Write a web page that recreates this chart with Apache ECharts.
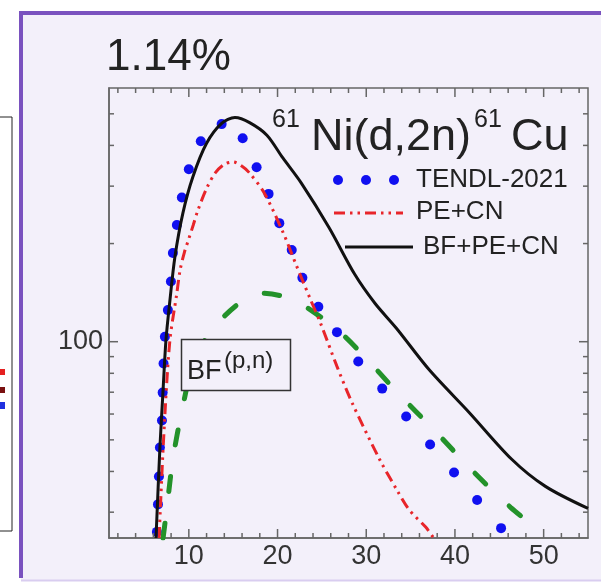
<!DOCTYPE html>
<html>
<head>
<meta charset="utf-8">
<script src="https://cdn.jsdelivr.net/npm/echarts@6.0.0/dist/echarts.min.js"></script>
<style>
html, body { margin: 0; padding: 0; background: #fff; }
#ct1 { width: 601px; height: 583px; }
</style>
</head>
<body>
<div id="ct1"></div>
<script>
// TENDL-2021 (blue dots)
var tendlE = [6.4, 6.52, 6.63, 6.74, 6.97, 7.05, 7.15, 7.3, 7.64, 7.98, 8.2, 8.65, 9.21, 10.0, 11.35, 13.7, 16.07, 17.64, 18.99, 20.2, 21.6, 22.8, 24.6, 26.7, 29.1, 31.8, 34.5, 37.2, 39.9, 42.5, 45.2];
var tendlXS = [26.1, 31.7, 38.6, 47.4, 57.3, 69.8, 85.7, 103.6, 125, 153, 187, 228, 277, 338, 412, 465, 421, 343, 284, 231, 191, 157, 128, 107, 86.9, 71.8, 59.0, 48.4, 39.7, 32.7, 26.8];
// PE+CN (red dash-dot-dot)
var peE = [6.65, 7.15, 7.85, 8.65, 9.0, 9.5, 10.0, 10.5, 11.0, 12.0, 13.0, 14.0, 15.0, 16.0, 16.85, 18.5, 20.6, 22.1, 23.6, 24.9, 26.7, 28.4, 31.5, 33.4, 34.8, 36.7, 37.6];
var peXS = [25, 50, 100, 141, 165, 188, 207, 228, 252, 295, 330, 350, 356, 345, 329, 286, 217, 172, 137, 113, 84, 65, 43.6, 35.3, 30.6, 27.0, 25];
// BF+PE+CN (black)
var allE = [6.3, 6.74, 7.08, 7.42, 7.87, 8.43, 9.33, 10.45, 12.0, 13.7, 15.2, 16.85, 18.8, 20.6, 22.7, 25.8, 28.7, 31.0, 33.4, 37.1, 41.6, 46.4, 50.2, 55];
var allXS = [25, 47.4, 69.8, 101, 134, 182, 248, 320, 406, 467, 487, 470, 430, 366, 306, 224, 161, 131, 110, 82, 60.7, 43.6, 36, 30.8];
// BF (green dashed)
var bfE = [7.1, 7.53, 8.2, 9.2, 10.5, 12.2, 13.9, 16.0, 18.1, 20.5, 23.0, 27.2, 29.8, 33.7, 37.6, 41.9, 46.3, 50.2];
var bfXS = [25, 31, 43.6, 61, 86, 105, 119, 133, 141, 138, 129, 106, 90, 69, 53.8, 40.4, 31, 25.5];

var xMajor = [10, 20, 30, 40, 50];
var xMinor = [2, 4, 6, 8, 12, 14, 16, 18, 22, 24, 26, 28, 32, 34, 36, 38, 42, 44, 46, 48, 52, 54];
var yMajor = [100];
var yMinor = [30, 40, 50, 60, 70, 80, 90, 200, 300, 400, 500];

var FONT = '"Liberation Sans", Arial, sans-serif';
var AXIS_COLOR = '#666666';

function pairs(xs, ys) {
	var out = [];
	for (var i = 0; i < xs.length; i++) {
		out.push([xs[i], ys[i]]);
	}
	return out;
}

// inward ticks on both sides of the frame, placed through the axes
function tickSeries(values, len, dim) {
	var data = [];
	for (var i = 0; i < values.length; i++) {
		data.push(dim == 'x' ? [values[i], 100] : [10, values[i]]);
	}
	return {
		type: 'custom', coordinateSystem: 'cartesian2d', silent: true, clip: false, z: 5,
		data: data,
		renderItem: function (params, api) {
			var a, b;
			if (dim == 'x') {
				a = api.coord([api.value(0), 25]);
				b = api.coord([api.value(0), 600]);
				return { type: 'group', children: [
					{ type: 'line', shape: { x1: a[0], y1: a[1], x2: a[0], y2: a[1] - len }, style: { stroke: AXIS_COLOR, lineWidth: 1.5 } },
					{ type: 'line', shape: { x1: b[0], y1: b[1], x2: b[0], y2: b[1] + len }, style: { stroke: AXIS_COLOR, lineWidth: 1.5 } }
				] };
			}
			a = api.coord([1, api.value(1)]);
			b = api.coord([55, api.value(1)]);
			return { type: 'group', children: [
				{ type: 'line', shape: { x1: a[0], y1: a[1], x2: a[0] + len, y2: a[1] }, style: { stroke: AXIS_COLOR, lineWidth: 1.5 } },
				{ type: 'line', shape: { x1: b[0], y1: b[1], x2: b[0] - len, y2: b[1] }, style: { stroke: AXIS_COLOR, lineWidth: 1.5 } }
			] };
		}
	};
}

function txt(x, y, s, size) {
	return {
		type: 'text', x: x, y: y, z: 20,
		style: { text: s, font: size + 'px ' + FONT, fill: '#222', align: 'left', verticalAlign: 'middle' }
	};
}

var graphics = [
	// panel
	{ type: 'rect', z: -10, shape: { x: 21, y: 13, width: 600, height: 567 }, style: { fill: '#f3f0fa' } },
	{ type: 'line', z: -9, shape: { x1: 21, y1: 11, x2: 21, y2: 578 }, style: { stroke: '#7a52bf', lineWidth: 4 } },
	{ type: 'line', z: -9, shape: { x1: 19, y1: 13, x2: 601, y2: 13 }, style: { stroke: '#7a52bf', lineWidth: 4 } },
	{ type: 'line', z: -9, shape: { x1: 21, y1: 580.5, x2: 601, y2: 580.5 }, style: { stroke: '#d9cdf0', lineWidth: 2 } },
	// neighbour panel fragment on the left
	{ type: 'line', shape: { x1: 12, y1: 117, x2: 12, y2: 531 }, style: { stroke: '#222', lineWidth: 1 } },
	{ type: 'line', shape: { x1: 0, y1: 117, x2: 12, y2: 117 }, style: { stroke: '#222', lineWidth: 1 } },
	{ type: 'line', shape: { x1: 0, y1: 531, x2: 12, y2: 531 }, style: { stroke: '#222', lineWidth: 1 } },
	{ type: 'rect', shape: { x: 0, y: 369, width: 5, height: 6 }, style: { fill: '#e52020' } },
	{ type: 'rect', shape: { x: 0, y: 387, width: 5, height: 6 }, style: { fill: '#7a1010' } },
	{ type: 'rect', shape: { x: 0, y: 402, width: 5, height: 7 }, style: { fill: '#2030e0' } },
	// titles
	txt(106, 58, '1.14%', 44),
	txt(272, 120, '61', 25),
	txt(311, 138, 'Ni(d,2n)', 45),
	txt(474, 120, '61', 25),
	txt(511, 138, 'Cu', 45),
	// legend
	{ type: 'circle', z: 20, shape: { cx: 338, cy: 180, r: 5 }, style: { fill: '#1010f0' } },
	{ type: 'circle', z: 20, shape: { cx: 366, cy: 180, r: 5 }, style: { fill: '#1010f0' } },
	{ type: 'circle', z: 20, shape: { cx: 394, cy: 180, r: 5 }, style: { fill: '#1010f0' } },
	txt(416, 180, 'TENDL-2021', 26),
	{ type: 'line', z: 20, shape: { x1: 334, y1: 213, x2: 403, y2: 213 }, style: { stroke: '#e8252a', lineWidth: 3, lineDash: [11, 5, 2.5, 5, 2.5, 5] } },
	txt(416, 212, 'PE+CN', 26),
	{ type: 'line', z: 20, shape: { x1: 345, y1: 247, x2: 413, y2: 247 }, style: { stroke: '#111', lineWidth: 3 } },
	txt(423, 247, 'BF+PE+CN', 26),
	// BF(p,n) box
	{ type: 'rect', z: 20, shape: { x: 181.5, y: 339.5, width: 109, height: 51 }, style: { fill: '#f3f0fa', stroke: '#333', lineWidth: 1.5 } },
	txt(187, 372, 'BF', 27),
	txt(224, 361, '(p,n)', 24)
];

var option1 = {
	animation: false,
	backgroundColor: '#ffffff',
	grid: { left: 109, right: 13, top: 88, bottom: 45, outerBoundsMode: 'none', show: true, borderColor: AXIS_COLOR, borderWidth: 1.5, backgroundColor: 'transparent' },
	xAxis: {
		type: 'value', min: 1, max: 55,
		axisLine: { show: true, onZero: false, lineStyle: { color: AXIS_COLOR, width: 1.5 } },
		axisTick: { show: false },
		axisLabel: { customValues: xMajor, fontSize: 27, color: '#333', fontFamily: FONT, margin: 5 },
		splitLine: { show: false }
	},
	yAxis: {
		type: 'log', logBase: 10, min: 25, max: 600,
		axisLine: { show: true, onZero: false, lineStyle: { color: AXIS_COLOR, width: 1.5 } },
		axisTick: { show: false },
		axisLabel: { customValues: yMajor, fontSize: 27, color: '#333', fontFamily: FONT, margin: 6 },
		splitLine: { show: false }
	},
	graphic: graphics,
	series: [
		tickSeries(xMajor, 9, 'x'),
		tickSeries(xMinor, 5, 'x'),
		tickSeries(yMajor, 9, 'y'),
		tickSeries(yMinor, 5, 'y'),
		{
			name: 'BF', type: 'line', data: pairs(bfE, bfXS), showSymbol: false, smooth: 0.3,
			lineStyle: { color: '#23922a', width: 5, type: [15, 32], cap: 'round' }
		},
		{
			name: 'PE+CN', type: 'line', data: pairs(peE, peXS), showSymbol: false, smooth: 0.3,
			lineStyle: { color: '#e8252a', width: 3, type: [11, 5, 2.5, 5, 2.5, 5] }
		},
		{
			name: 'BF+PE+CN', type: 'line', data: pairs(allE, allXS), showSymbol: false, smooth: 0.3,
			lineStyle: { color: '#111', width: 3 }
		},
		{
			name: 'TENDL-2021', type: 'scatter', data: pairs(tendlE, tendlXS), symbolSize: 10,
			itemStyle: { color: '#1010f0', opacity: 1 }
		}
	]
};

var myChart1 = echarts.init(document.getElementById('ct1'));
myChart1.setOption(option1, true);
</script>
</body>
</html>
